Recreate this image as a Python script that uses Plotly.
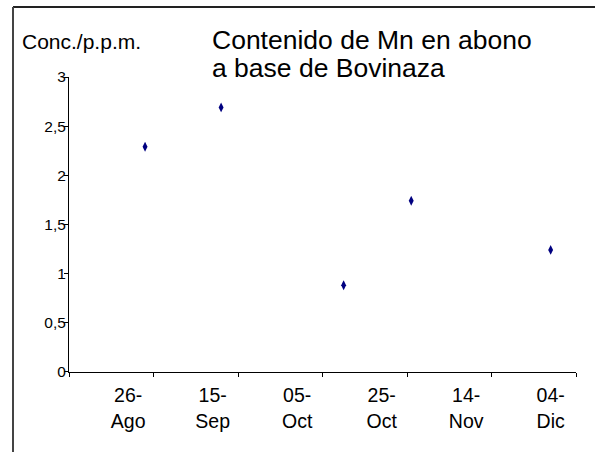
import datetime as dt
import plotly.graph_objects as go

# ---- data ----
sample_dates = ["2005-08-30", "2005-09-17", "2005-10-16", "2005-11-01", "2005-12-04"]
mn_conc = [2.29, 2.69, 0.88, 1.74, 1.24]

x_tick_labels = ["26-<br>Ago", "15-<br>Sep", "05-<br>Oct", "25-<br>Oct", "14-<br>Nov", "04-<br>Dic"]
x_label_dates = ["2005-08-26", "2005-09-15", "2005-10-05", "2005-10-25", "2005-11-14", "2005-12-04"]
y_tick_vals = [0, 0.5, 1, 1.5, 2, 2.5, 3]
y_tick_text = ["0", "0,5", "1", "1,5", "2", "2,5", "3"]

axis_start = "2005-08-12"
axis_end = "2005-12-10"
tick_step_days = 20

FONT = "Arial, Liberation Sans, sans-serif"

start = dt.date.fromisoformat(axis_start)
end = dt.date.fromisoformat(axis_end)
tick_dates = []
d = start
while d <= end:
    tick_dates.append(d.isoformat())
    d += dt.timedelta(days=tick_step_days)

# paper spans pixels x 13..595, y 7..452 (frame corner at top-left)
PL, PR, PT, PB = 13, 595, 7, 452
def px(xp):
    return (xp - PL) / (PR - PL)

def py(yp):
    return (PB - yp) / (PB - PT)

x_dom = [px(69), px(576)]
y_dom = [py(371.7), py(77)]

fig = go.Figure()
fig.add_trace(go.Scatter(
    x=sample_dates, y=mn_conc, mode="markers",
    marker=dict(symbol="diamond-tall", size=7, color="#000080",
                line=dict(width=0)),
    showlegend=False, hoverinfo="x+y",
))
# invisible traces to activate the label axis and the frame axes
fig.add_trace(go.Scatter(x=[axis_start, axis_end], y=[None, None], xaxis="x2",
                         mode="markers", showlegend=False, hoverinfo="skip"))
fig.add_trace(go.Scatter(x=[0, 1], y=[None, None], xaxis="x3", yaxis="y3",
                         mode="markers", showlegend=False, hoverinfo="skip"))

fig.update_layout(
    template="none",
    width=595, height=452,
    margin=dict(l=PL, r=595 - PR, t=PT, b=452 - PB, pad=0, autoexpand=False),
    paper_bgcolor="white", plot_bgcolor="rgba(0,0,0,0)",
    font=dict(family=FONT, color="black"),
    xaxis=dict(
        type="date", range=[axis_start, axis_end], automargin=False, domain=x_dom,
        anchor="y",
        tickmode="array", tickvals=tick_dates, ticktext=[""] * len(tick_dates),
        ticks="outside", ticklen=4, tickcolor="black", tickwidth=1,
        showline=True, linecolor="black", linewidth=1,
        showgrid=False, zeroline=False,
    ),
    xaxis2=dict(
        type="date", range=[axis_start, axis_end], overlaying="x", side="bottom",
        automargin=False, domain=x_dom, anchor="y",
        tickmode="array", tickvals=x_label_dates, ticktext=x_tick_labels,
        ticks="", showline=False, showgrid=False, zeroline=False,
        tickfont=dict(size=19.5, family=FONT, color="black"),
        ticklabelstandoff=10,
    ),
    yaxis=dict(
        range=[0, 3], automargin=False, domain=y_dom, anchor="x",
        tickmode="array", tickvals=y_tick_vals, ticktext=y_tick_text,
        ticks="outside", ticklen=4, tickcolor="black", tickwidth=1,
        showline=True, linecolor="black", linewidth=1,
        showgrid=False, zeroline=False,
        tickfont=dict(size=15.5, family=FONT, color="black"),
        ticklabelstandoff=-5,
    ),
    xaxis3=dict(
        domain=[0, 1], anchor="free", position=1, side="top", range=[0, 1],
        showline=True, linecolor="#222222", linewidth=2, mirror=False,
        showticklabels=False, ticks="", showgrid=False, zeroline=False,
        automargin=False, fixedrange=True,
    ),
    yaxis3=dict(
        domain=[0, 1], anchor="free", position=0, side="left", range=[0, 1],
        showline=True, linecolor="#444444", linewidth=2,
        showticklabels=False, ticks="", showgrid=False, zeroline=False,
        automargin=False, fixedrange=True,
    ),
    annotations=[
        dict(text="Conc./p.p.m.", xref="paper", yref="paper",
             x=px(20), y=py(42), xanchor="left", yanchor="middle",
             showarrow=False, font=dict(size=21, family=FONT, color="black")),
        dict(text="Contenido de Mn en abono", xref="paper", yref="paper",
             x=px(210), y=py(40), xanchor="left", yanchor="middle",
             showarrow=False, font=dict(size=26.5, family=FONT, color="black")),
        dict(text="a base de Bovinaza", xref="paper", yref="paper",
             x=px(210), y=py(68), xanchor="left", yanchor="middle",
             showarrow=False, font=dict(size=26.5, family=FONT, color="black")),
    ],
)

fig.write_html("out.html", config={"displayModeBar": False},
               post_script="document.body.style.margin='0';")
